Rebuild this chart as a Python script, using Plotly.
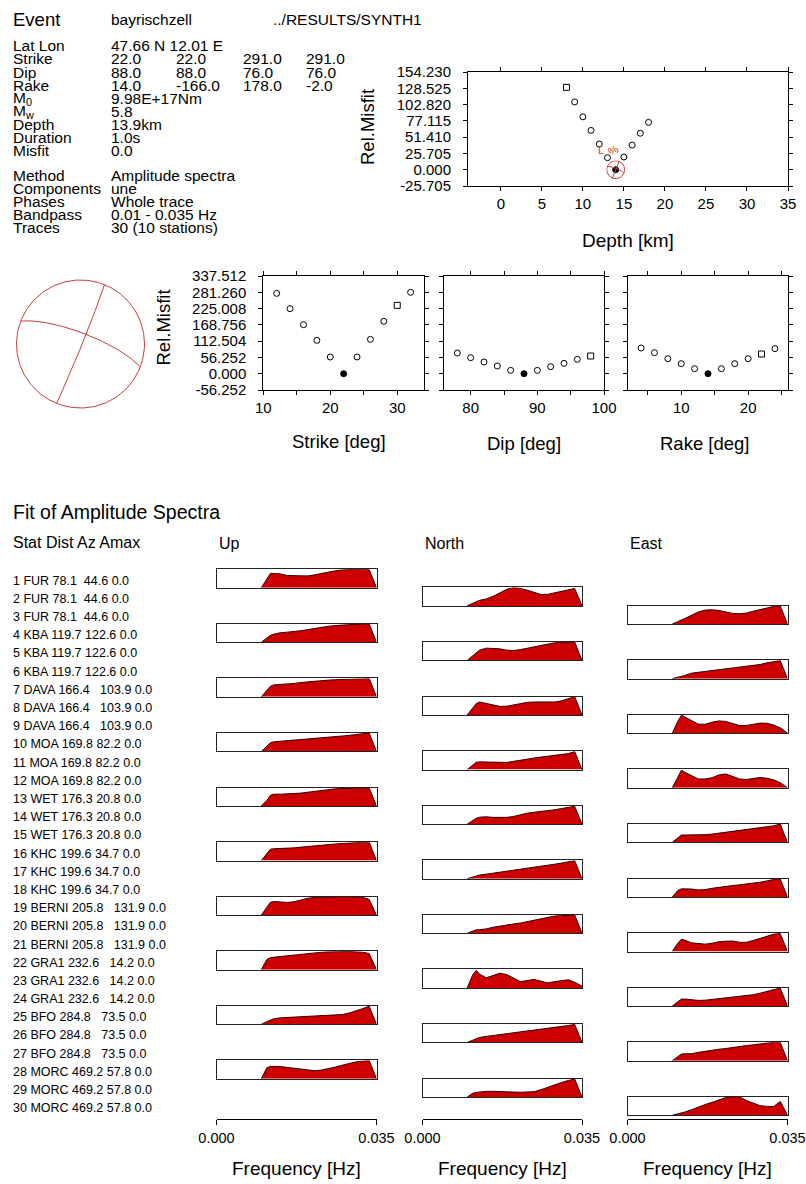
import numpy as np
import plotly.graph_objects as go

W, H = 806, 1184
FONT = "Liberation Sans, Arial, Helvetica, sans-serif"

# ---------------- header text ----------------
EVENT_NAME = "bayrischzell"
RESULT_DIR = "../RESULTS/SYNTH1"
LATLON = "47.66 N 12.01 E"
STRIKES = [22.0, 22.0, 291.0, 291.0]
DIPS = [88.0, 88.0, 76.0, 76.0]
RAKES = [14.0, -166.0, 178.0, -2.0]
EXTRA_LABELS = ["M<sub>0</sub>", "M<sub>w</sub>", "Depth", "Duration", "Misfit"]
EXTRA_VALUES = ["9.98E+17Nm", "5.8", "13.9km", "1.0s", "0.0"]
METHOD_LABELS = ["Method", "Components", "Phases", "Bandpass", "Traces"]
METHOD_VALUES = ["Amplitude spectra", "une", "Whole trace", "0.01 - 0.035 Hz", "30 (10 stations)"]

# ---------------- misfit curves ----------------
DEPTH_KM = [8, 9, 10, 11, 12, 13, 14, 15, 16, 17, 18]
DEPTH_MISFIT = [130.0, 107.0, 83.5, 62.0, 40.5, 19.0, 0.0, 20.0, 38.9, 57.6, 74.7]
DEPTH_YTICKS = [-25.705, 0.0, 25.705, 51.410, 77.115, 102.820, 128.525, 154.230]

STRIKE_DEG = [12, 14, 16, 18, 20, 22, 24, 26, 28, 30, 32]
STRIKE_MISFIT = [277.6, 224.7, 169.4, 115.3, 57.7, 0.0, 57.7, 118.7, 180.9, 236.2, 281.1]
DIP_DEG = [78, 80, 82, 84, 86, 88, 90, 92, 94, 96, 98]
DIP_MISFIT = [71.5, 55.4, 40.5, 26.6, 11.6, 0.0, 11.6, 24.3, 35.8, 49.6, 61.2]
RAKE_DEG = [4, 6, 8, 10, 12, 14, 16, 18, 20, 22, 24]
RAKE_MISFIT = [88.8, 72.7, 51.9, 34.7, 17.4, 0.0, 17.4, 34.7, 51.9, 68.1, 86.5]
ANGLE_YTICKS = [-56.252, 0.0, 56.252, 112.504, 168.756, 225.008, 281.260, 337.512]

# ---------------- stations ----------------
STATIONS = ["FUR", "KBA", "DAVA", "MOA", "WET", "KHC", "BERNI", "GRA1", "BFO", "MORC"]
DIST_KM = [78.1, 119.7, 166.4, 169.8, 176.3, 199.6, 205.8, 232.6, 284.8, 469.2]
AZIMUTH = [44.6, 122.6, 103.9, 82.2, 20.8, 34.7, 131.9, 14.2, 73.5, 57.8]
AMAX = [0.0, 0.0, 0.0, 0.0, 0.0, 0.0, 0.0, 0.0, 0.0, 0.0]
LABEL_GAPS = [2, 1, 3, 1, 1, 1, 3, 3, 3, 1]

# ---------------- amplitude spectra (normalised) ----------------
FREQ_HZ = [0.0098, 0.011, 0.0118, 0.0125, 0.014, 0.0155, 0.017, 0.0185, 0.020, 0.0215,
           0.023, 0.0245, 0.026, 0.0275, 0.029, 0.0305, 0.032, 0.0334, 0.035]
UP_SPEC = [
    [0, 0.5, 0.78, 0.77, 0.75, 0.66, 0.64, 0.64, 0.64, 0.7, 0.78, 0.86, 0.92, 0.97, 1.0, 1.0, 1.0, 0.98, 0],
    [0, 0.21, 0.38, 0.44, 0.52, 0.55, 0.58, 0.63, 0.69, 0.76, 0.82, 0.87, 0.91, 0.94, 0.96, 0.98, 1.0, 0.99, 0],
    [0, 0.35, 0.58, 0.65, 0.67, 0.69, 0.73, 0.78, 0.82, 0.85, 0.89, 0.91, 0.93, 0.95, 0.95, 0.96, 0.98, 1.0, 0],
    [0, 0.3, 0.47, 0.52, 0.55, 0.58, 0.61, 0.64, 0.68, 0.72, 0.75, 0.78, 0.81, 0.84, 0.87, 0.92, 0.97, 1.0, 0],
    [0, 0.3, 0.58, 0.64, 0.64, 0.65, 0.66, 0.7, 0.75, 0.8, 0.86, 0.9, 0.93, 0.95, 0.96, 0.98, 1.0, 0.98, 0],
    [0, 0.35, 0.62, 0.64, 0.65, 0.67, 0.69, 0.73, 0.77, 0.8, 0.84, 0.87, 0.9, 0.93, 0.96, 0.98, 0.99, 1.0, 0],
    [0, 0.4, 0.7, 0.74, 0.72, 0.69, 0.73, 0.82, 0.92, 0.96, 0.98, 0.99, 1.0, 1.0, 1.0, 0.99, 0.97, 0.85, 0],
    [0, 0.55, 0.66, 0.68, 0.7, 0.73, 0.8, 0.85, 0.88, 0.91, 0.95, 0.97, 0.99, 1.0, 0.99, 0.97, 0.95, 0.88, 0],
    [0, 0.15, 0.25, 0.3, 0.35, 0.37, 0.38, 0.4, 0.42, 0.42, 0.43, 0.45, 0.47, 0.53, 0.61, 0.72, 0.85, 0.98, 0],
    [0, 0.6, 0.68, 0.68, 0.67, 0.62, 0.58, 0.52, 0.47, 0.44, 0.48, 0.54, 0.64, 0.74, 0.85, 0.92, 0.97, 1.0, 0],
]
NORTH_SPEC = [
    [0, 0.16, 0.23, 0.3, 0.38, 0.52, 0.72, 0.9, 1.0, 0.95, 0.85, 0.72, 0.62, 0.63, 0.71, 0.79, 0.87, 0.95, 0],
    [0, 0.26, 0.44, 0.56, 0.67, 0.67, 0.63, 0.56, 0.54, 0.59, 0.67, 0.76, 0.83, 0.91, 0.96, 0.98, 0.98, 1.0, 0],
    [0, 0.4, 0.62, 0.71, 0.64, 0.55, 0.47, 0.48, 0.56, 0.64, 0.69, 0.71, 0.71, 0.68, 0.71, 0.77, 0.87, 1.0, 0],
    [0, 0.25, 0.4, 0.42, 0.42, 0.42, 0.41, 0.39, 0.45, 0.52, 0.58, 0.63, 0.68, 0.72, 0.76, 0.81, 0.87, 0.98, 0],
    [0, 0.2, 0.32, 0.38, 0.4, 0.37, 0.36, 0.37, 0.42, 0.52, 0.6, 0.65, 0.68, 0.72, 0.78, 0.85, 0.9, 0.97, 0],
    [0, 0.1, 0.16, 0.2, 0.25, 0.3, 0.35, 0.4, 0.45, 0.5, 0.56, 0.62, 0.67, 0.73, 0.79, 0.85, 0.91, 0.98, 0],
    [0, 0.12, 0.19, 0.2, 0.24, 0.33, 0.4, 0.46, 0.51, 0.56, 0.63, 0.71, 0.8, 0.88, 0.94, 0.96, 0.97, 1.0, 0],
    [0, 0.7, 0.96, 0.75, 0.55, 0.66, 0.8, 0.72, 0.52, 0.34, 0.4, 0.46, 0.36, 0.27, 0.34, 0.41, 0.44, 0.3, 0.1],
    [0, 0.12, 0.22, 0.27, 0.33, 0.38, 0.43, 0.47, 0.5, 0.55, 0.6, 0.65, 0.7, 0.74, 0.79, 0.85, 0.92, 0.98, 0],
    [0, 0.2, 0.25, 0.27, 0.31, 0.31, 0.31, 0.29, 0.27, 0.26, 0.26, 0.29, 0.4, 0.54, 0.68, 0.79, 0.9, 0.98, 0],
]
EAST_SPEC = [
    [0, 0.12, 0.22, 0.3, 0.48, 0.66, 0.76, 0.78, 0.74, 0.66, 0.58, 0.56, 0.6, 0.7, 0.8, 0.9, 0.96, 1.0, 0],
    [0, 0.06, 0.12, 0.17, 0.3, 0.35, 0.39, 0.43, 0.47, 0.51, 0.56, 0.62, 0.68, 0.73, 0.77, 0.86, 0.93, 0.98, 0],
    [0, 0.65, 0.98, 0.9, 0.69, 0.49, 0.49, 0.6, 0.67, 0.64, 0.51, 0.42, 0.42, 0.5, 0.55, 0.54, 0.44, 0.3, 0],
    [0, 0.6, 0.96, 0.85, 0.68, 0.48, 0.48, 0.55, 0.7, 0.75, 0.62, 0.48, 0.45, 0.52, 0.56, 0.52, 0.43, 0.28, 0],
    [0, 0.25, 0.4, 0.4, 0.4, 0.4, 0.42, 0.45, 0.5, 0.58, 0.63, 0.68, 0.73, 0.77, 0.81, 0.85, 0.9, 1.0, 0],
    [0, 0.35, 0.44, 0.44, 0.43, 0.38, 0.4, 0.47, 0.53, 0.58, 0.62, 0.66, 0.7, 0.74, 0.8, 0.87, 0.95, 0.98, 0],
    [0, 0.45, 0.67, 0.62, 0.47, 0.42, 0.4, 0.45, 0.53, 0.56, 0.57, 0.5, 0.5, 0.6, 0.7, 0.8, 0.94, 0.98, 0],
    [0, 0.25, 0.38, 0.38, 0.34, 0.31, 0.32, 0.36, 0.4, 0.43, 0.47, 0.52, 0.55, 0.62, 0.7, 0.8, 0.9, 0.98, 0],
    [0, 0.22, 0.36, 0.37, 0.38, 0.45, 0.52, 0.57, 0.62, 0.66, 0.72, 0.77, 0.82, 0.86, 0.91, 0.97, 1.0, 1.0, 0],
    [0, 0.06, 0.12, 0.17, 0.3, 0.45, 0.58, 0.7, 0.83, 0.96, 1.0, 1.0, 0.8, 0.66, 0.52, 0.48, 0.48, 0.75, 0],
]
FREQ_TICKS = [0.0, 0.035]
FREQ_TICKTEXT = ["0.000", "0.035"]
COMPONENTS = ["Up", "North", "East"]

# ---------------- helpers ----------------
fig = go.Figure()
axes_layout = {}
annotations = []
counter = [0]


def X(px):
    return px / W


def Y(py):
    return 1 - py / H


def add_axes(x0, x1, y0, y1, xkw, ykw):
    counter[0] += 1
    n = counter[0]
    s = "" if n == 1 else str(n)
    axes_layout["xaxis" + s] = dict(domain=[X(x0), X(x1)], anchor="y" + s, automargin=False, **xkw)
    axes_layout["yaxis" + s] = dict(domain=[Y(y1), Y(y0)], anchor="x" + s, automargin=False, **ykw)
    return "x" + s, "y" + s


def text(x, y, s, size=15.5, anchor="left", color="black", angle=0):
    annotations.append(dict(x=X(x), y=Y(y), xref="paper", yref="paper", text=s,
                            showarrow=False, xanchor=anchor, yanchor="middle",
                            textangle=angle, borderpad=0,
                            font=dict(family=FONT, size=size, color=color)))


TICKFONT = dict(family=FONT, size=15, color="black")
AXIS_COMMON = dict(showline=True, linecolor="black", linewidth=1, mirror="ticks",
                   ticks="outside", ticklen=4, tickwidth=1, tickcolor="black",
                   showgrid=False, zeroline=False, tickfont=TICKFONT, fixedrange=True)


def misfit_axes(box, xr, yr, tick0, dtick, minor_dtick, yt, show_y):
    xkw = dict(range=xr, tickmode="linear", tick0=tick0, dtick=dtick,
               ticklabelstandoff=0, **AXIS_COMMON)
    if minor_dtick:
        xkw["minor"] = dict(tickmode="linear", tick0=tick0, dtick=minor_dtick, ticks="outside",
                            ticklen=4, tickwidth=1, tickcolor="black", showgrid=False)
    ykw = dict(range=yr, tickmode="array", tickvals=yt,
               ticktext=[f"{v:.3f}" for v in yt], showticklabels=show_y,
               ticklabelstandoff=9, **AXIS_COMMON)
    return add_axes(box[0], box[1], box[2], box[3], xkw, ykw)


def misfit_points(xs, ys, xa, ya, square_at=None):
    best = int(np.argmin(ys))
    symbols = []
    for i in range(len(xs)):
        if i == best:
            symbols.append("circle")
        elif square_at is not None and i == square_at:
            symbols.append("square-open")
        else:
            symbols.append("circle-open")
    fig.add_trace(go.Scatter(x=xs, y=ys, mode="markers", xaxis=xa, yaxis=ya,
                             marker=dict(symbol=symbols, size=6, color="black",
                                         line=dict(color="black", width=1)),
                             hoverinfo="skip", cliponaxis=False))


def nodal_line(strike, dip, n=121):
    s = np.radians(strike)
    d = np.radians(dip)
    a = np.linspace(0, np.pi, n)
    sv = np.array([np.sin(s), np.cos(s), 0.0])
    dd = s + np.pi / 2
    dv = np.array([np.cos(d) * np.sin(dd), np.cos(d) * np.cos(dd), np.sin(d)])
    v = np.outer(np.cos(a), sv) + np.outer(np.sin(a), dv)
    plunge = np.arcsin(np.clip(v[:, 2], -1, 1))
    trend = np.arctan2(v[:, 0], v[:, 1])
    r = np.sqrt(2) * np.sin((np.pi / 2 - plunge) / 2)
    return r * np.sin(trend), r * np.cos(trend)


def beachball(cx, cy, radius, width):
    half = radius * 1.03
    hidden = dict(range=[-1.03, 1.03], visible=False, fixedrange=True)
    xa, ya = add_axes(cx - half, cx + half, cy - half, cy + half, dict(hidden), dict(hidden))
    t = np.linspace(0, 2 * np.pi, 241)
    fig.add_trace(go.Scatter(x=np.cos(t), y=np.sin(t), mode="lines", xaxis=xa, yaxis=ya,
                             line=dict(color="#c83c3c", width=width), hoverinfo="skip"))
    for k in (0, 2):
        ex, ny = nodal_line(STRIKES[k], DIPS[k])
        fig.add_trace(go.Scatter(x=ex, y=ny, mode="lines", xaxis=xa, yaxis=ya,
                                 line=dict(color="#c83c3c", width=width), hoverinfo="skip"))
    return xa, ya


# ---------------- header ----------------
text(12, 20, "Event", size=18.5)
text(110, 20, EVENT_NAME, size=15.5)
text(272, 20, RESULT_DIR, size=15.5)
row_y = [45.7, 59, 72, 85, 98, 111.5, 124.5, 137.5, 150]
text(12, row_y[0], "Lat Lon")
text(110, row_y[0], LATLON)
col_x = [110, 175, 242, 305]
for lab, vals, yy in zip(["Strike", "Dip", "Rake"], [STRIKES, DIPS, RAKES], row_y[1:4]):
    text(12, yy, lab)
    for cx, v in zip(col_x, vals):
        text(cx, yy, f"{v:.1f}")
for lab, val, yy in zip(EXTRA_LABELS, EXTRA_VALUES, row_y[4:]):
    text(12, yy, lab)
    text(110, yy, val)
for i, (lab, val) in enumerate(zip(METHOD_LABELS, METHOD_VALUES)):
    yy = 175 + i * 13.1
    text(12, yy, lab)
    text(110, yy, val)

# ---------------- depth misfit ----------------
DEPTH_BOX = (468, 788, 72, 186)
DEPTH_XR = [-4, 35]
DEPTH_YR = [DEPTH_YTICKS[0], DEPTH_YTICKS[-1]]
dxa, dya = misfit_axes(DEPTH_BOX, DEPTH_XR, DEPTH_YR, 0, 5, None, DEPTH_YTICKS, True)
misfit_points(DEPTH_KM, DEPTH_MISFIT, dxa, dya, square_at=0)
text(368, 127, "Rel.Misfit", size=18.5, anchor="center", angle=-90)
text(627.5, 240, "Depth [km]", size=19, anchor="center")

# small beachball at best depth
ib = int(np.argmin(DEPTH_MISFIT))
bpx = DEPTH_BOX[0] + (DEPTH_KM[ib] - DEPTH_XR[0]) / (DEPTH_XR[1] - DEPTH_XR[0]) * (DEPTH_BOX[1] - DEPTH_BOX[0])
bpy = DEPTH_BOX[3] - (DEPTH_MISFIT[ib] - DEPTH_YR[0]) / (DEPTH_YR[1] - DEPTH_YR[0]) * (DEPTH_BOX[3] - DEPTH_BOX[2])
beachball(bpx, bpy, 9, 1)
text(601, 150, "L", size=11, anchor="center", color="#c83c3c")
text(613, 150, "%", size=11, anchor="center", color="#c83c3c", angle=-30)

# ---------------- big beachball ----------------
beachball(80.5, 344, 64, 1)

# ---------------- strike / dip / rake ----------------
ANG_YR = [ANGLE_YTICKS[0], ANGLE_YTICKS[-1]]
sxa, sya = misfit_axes((263.3, 424, 276, 390), [10, 34], ANG_YR, 10, 10, 5, ANGLE_YTICKS, True)
misfit_points(STRIKE_DEG, STRIKE_MISFIT, sxa, sya, square_at=9)
pxa, pya = misfit_axes((444, 604, 276, 390), [76, 100], ANG_YR, 80, 10, 5, ANGLE_YTICKS, False)
misfit_points(DIP_DEG, DIP_MISFIT, pxa, pya, square_at=10)
rxa, rya = misfit_axes((627.7, 788.3, 276, 390), [2, 26], ANG_YR, 10, 10, 5, ANGLE_YTICKS, False)
misfit_points(RAKE_DEG, RAKE_MISFIT, rxa, rya, square_at=9)
text(163.5, 328, "Rel.Misfit", size=18.5, anchor="center", angle=-90)
text(339, 442, "Strike [deg]", size=18.5, anchor="center")
text(524, 443, "Dip [deg]", size=18.5, anchor="center")
text(704, 443, "Rake [deg]", size=18.5, anchor="center")

# ---------------- amplitude spectra ----------------
text(12, 512, "Fit of Amplitude Spectra", size=19.5)
text(12, 542, "Stat Dist Az Amax", size=16)
COL_X = [(216.5, 376.5), (422.5, 582.0), (627.5, 787.5)]
for name, (c0, _) in zip(COMPONENTS, COL_X):
    text(c0 + 1.5, 543, name, size=16)

ROW0_Y, ROW_DY = 580.7, 18.19
box_x = dict(range=[0, 0.035], showline=True, mirror=True, linecolor="#222222", linewidth=1,
             ticks="", showticklabels=False, showgrid=False, zeroline=False, fixedrange=True)
box_y = dict(range=[0, 1.0], showline=True, mirror=True, linecolor="#222222", linewidth=1,
             ticks="", showticklabels=False, showgrid=False, zeroline=False, fixedrange=True)
for k in range(len(STATIONS)):
    for c, spec in enumerate([UP_SPEC, NORTH_SPEC, EAST_SPEC]):
        row = 3 * k + c
        ry = ROW0_Y + row * ROW_DY
        gap = "\u00a0" * LABEL_GAPS[k]
        text(12, ry, f"{row + 1} {STATIONS[k]} {DIST_KM[k]:.1f}{gap}{AZIMUTH[k]:.1f} {AMAX[k]:.1f}", size=12.5)
        c0, c1 = COL_X[c]
        xa, ya = add_axes(c0, c1, ry - 11.4, ry + 7.0, dict(box_x), dict(box_y))
        fig.add_trace(go.Scatter(x=FREQ_HZ, y=spec[k], mode="lines", fill="tozeroy",
                                 fillcolor="#cc0000", line=dict(color="#3a0000", width=1),
                                 xaxis=xa, yaxis=ya, hoverinfo="skip"))

# frequency axes at the bottom
for c0, c1 in COL_X:
    xa, ya = add_axes(c0, c1, 1118, 1119,
                      dict(range=[0, 0.035], showline=True, linecolor="black", linewidth=1,
                           ticks="outside", ticklen=5, tickcolor="black", tickmode="array",
                           tickvals=FREQ_TICKS, ticktext=FREQ_TICKTEXT, showgrid=False,
                           zeroline=False, ticklabelstandoff=1,
                           tickfont=dict(family=FONT, size=14.5, color="black"), fixedrange=True),
                      dict(range=[0, 1], visible=False, fixedrange=True))
    fig.add_trace(go.Scatter(x=[None], y=[None], xaxis=xa, yaxis=ya, hoverinfo="skip"))
    text((c0 + c1) / 2, 1168, "Frequency [Hz]", size=19, anchor="center")

fig.update_layout(
    width=W, height=H, autosize=False,
    margin=dict(l=0, r=0, t=0, b=0, pad=0, autoexpand=False),
    paper_bgcolor="white", plot_bgcolor="rgba(0,0,0,0)", showlegend=False,
    annotations=annotations, font=dict(family=FONT, color="black"),
    **axes_layout,
)
fig.write_html(
    "out.html",
    config={"displayModeBar": False},
    post_script=("document.documentElement.style.margin='0';document.body.style.margin='0';"
                 "document.body.style.padding='0';document.documentElement.style.overflow='hidden';"
                 "document.body.style.overflow='hidden';"),
)
